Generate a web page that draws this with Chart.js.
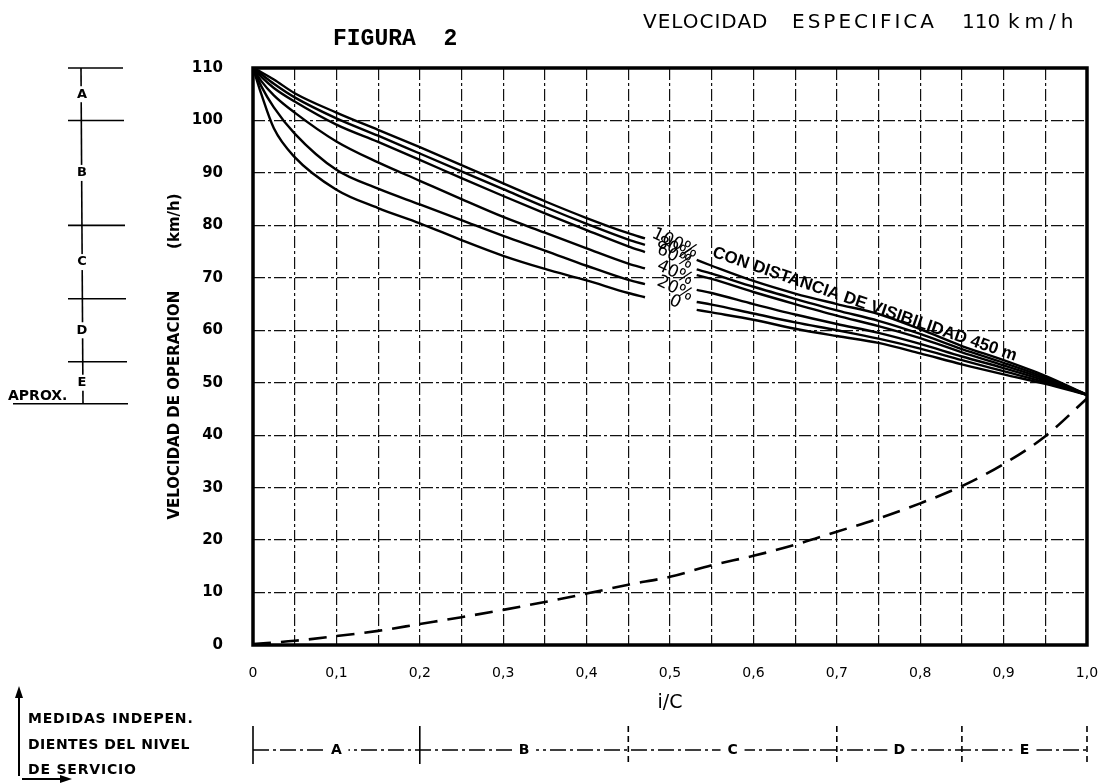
<!DOCTYPE html>
<html>
<head>
<meta charset="utf-8">
<script src="https://cdn.jsdelivr.net/npm/chart.js@4.4.1/dist/chart.umd.min.js"></script>
<style>
  html, body { margin:0; padding:0; background:#fff; }
  #wrap { width:1101px; height:783px; }
</style>
</head>
<body>
<div id="wrap"><canvas id="chart" width="1101" height="783"></canvas></div>
<script>
// curve values (velocidad de operacion vs i/C)
const xLeft = [0, 0.01, 0.025, 0.05, 0.1, 0.15, 0.2, 0.25, 0.3, 0.35, 0.4, 0.45, 0.47];
const s100Left = [110, 109.2, 107.8, 105.2, 101.5, 98.2, 94.9, 91.5, 88.0, 84.6, 81.4, 78.5, 77.5];
const s80Left  = [110, 108.8, 107.0, 104.4, 100.4, 97.1, 93.7, 90.3, 86.9, 83.5, 80.3, 77.3, 76.3];
const s60Left  = [110, 108.3, 106.2, 103.6, 99.2, 95.9, 92.5, 89.0, 85.6, 82.3, 79.1, 76.0, 74.9];
const s40Left  = [110, 107.5, 104.8, 101.5, 96.0, 92.0, 88.5, 85.0, 81.6, 78.6, 75.6, 72.7, 71.8];
const s20Left  = [110, 106.5, 102.5, 97.5, 90.6, 87.0, 84.0, 81.0, 78.0, 75.2, 72.3, 69.6, 68.8];
const s0Left   = [110, 105.0, 98.5, 93.0, 86.8, 83.3, 80.4, 77.2, 74.2, 71.7, 69.5, 67.1, 66.3];

const xRight = [0.532, 0.55, 0.6, 0.65, 0.7, 0.75, 0.8, 0.85, 0.9, 0.95, 1.0];
const s100Right = [73.4, 72.3, 69.4, 67.0, 65.0, 63.1, 60.2, 57.0, 54.3, 51.3, 47.7];
const s80Right  = [71.6, 70.8, 68.3, 66.0, 63.8, 61.8, 59.3, 56.4, 53.8, 51.0, 47.7];
const s60Right  = [70.5, 69.8, 67.3, 65.0, 62.8, 60.8, 58.5, 55.8, 53.3, 50.7, 47.7];
const s40Right  = [67.7, 67.1, 65.0, 63.0, 61.2, 59.5, 57.4, 55.0, 52.8, 50.4, 47.7];
const s20Right  = [65.4, 64.9, 63.2, 61.5, 60.0, 58.4, 56.5, 54.3, 52.2, 50.1, 47.7];
const s0Right   = [63.9, 63.4, 62.0, 60.3, 58.9, 57.6, 55.6, 53.5, 51.6, 49.8, 47.7];

const curveLabels = ["100%", "80%", "60%", "40%", "20%", "0"];

const xDashed = [0, 0.05, 0.1, 0.15, 0.2, 0.25, 0.3, 0.35, 0.4, 0.45, 0.5, 0.55, 0.6, 0.65, 0.7, 0.75, 0.8, 0.85, 0.9, 0.95, 1.0];
const vDashed = [0.2, 0.8, 1.7, 2.7, 4.0, 5.3, 6.7, 8.2, 9.8, 11.5, 13.0, 15.2, 17.0, 19.1, 21.6, 24.1, 27.0, 30.3, 34.5, 39.8, 47.0];

const xTickLabels = ["0", "0,1", "0,2", "0,3", "0,4", "0,5", "0,6", "0,7", "0,8", "0,9", "1,0"];

// niveles de servicio
const losLetters = ["A", "B", "C", "D", "E"];
const losBoundsIC = [0, 0.2, 0.45, 0.7, 0.85, 1.0];
const losBoundsSpeed = [110, 100, 80, 66, 54, 46];

const leftSets = [s100Left, s80Left, s60Left, s40Left, s20Left, s0Left];
const rightSets = [s100Right, s80Right, s60Right, s40Right, s20Right, s0Right];

function pts(xs, ys){
  return xs.map((x, i) => ({ x, y: ys[i] }));
}

const datasets = [];
curveLabels.forEach((lab, i) => {
  datasets.push({ label: lab, data: pts(xLeft, leftSets[i]) });
  datasets.push({ label: lab + " r", data: pts(xRight, rightSets[i]) });
});
datasets.push({ label: "i/C", data: pts(xDashed, vDashed), borderDash: [18, 10], borderWidth: 2.6 });

const FONT = "DejaVu Sans";

function spaced(ctx, text, x, y, spacing){
  ctx.letterSpacing = spacing + "px";
  ctx.fillText(text, x, y);
  ctx.letterSpacing = "0px";
}

const annotations = {
  id: "annotations",
  afterDraw(chart){
    const ctx = chart.ctx;
    const xs = chart.scales.x, ys = chart.scales.y;
    const ca = chart.chartArea;
    ctx.save();

    // marco
    ctx.strokeStyle = "#000";
    ctx.lineWidth = 3.5;
    ctx.strokeRect(ca.left, ca.top, ca.right - ca.left, ca.bottom - ca.top);

    ctx.fillStyle = "#000";
    // titulos
    ctx.textBaseline = "alphabetic";
    ctx.textAlign = "left";
    ctx.font = "bold 23px 'Liberation Mono'";
    ctx.fillText("FIGURA  2", 333, 45);
    ctx.font = "20px " + FONT;
    spaced(ctx, "VELOCIDAD", 643, 28, 1);
    spaced(ctx, "ESPECIFICA", 792, 28, 3);
    spaced(ctx, "110", 962, 28, 0);
    spaced(ctx, "km/h", 1008, 28, 5);

    // etiquetas de porcentaje al final de las curvas
    ctx.font = "17px " + FONT;
    ctx.textAlign = "center";
    ctx.textBaseline = "middle";
    curveLabels.forEach((lab, i) => {
      const arr = leftSets[i];
      const px = xs.getPixelForValue(xLeft[xLeft.length - 1] + 0.036);
      const py = ys.getPixelForValue(arr[arr.length - 1] - 0.9);
      ctx.save();
      ctx.translate(px, py);
      ctx.rotate(25 * Math.PI / 180);
      ctx.fillText(lab, 0, 0);
      ctx.restore();
    });

    // texto sobre la curva de 100%
    ctx.save();
    ctx.translate(713, 252);
    ctx.rotate(19 * Math.PI / 180);
    ctx.font = "bold 17px 'Liberation Sans'";
    ctx.textAlign = "left";
    ctx.textBaseline = "middle";
    ctx.fillText("CON DISTANCIA DE VISIBILIDAD 450 m", 0, 0);
    ctx.restore();

    // escala izquierda A..E
    ctx.lineWidth = 1.6;
    const lx = 81;
    ctx.beginPath();
    ctx.moveTo(lx, ys.getPixelForValue(losBoundsSpeed[0]));
    ctx.lineTo(lx + 2, ys.getPixelForValue(losBoundsSpeed[losBoundsSpeed.length - 1]));
    ctx.stroke();
    losBoundsSpeed.forEach((s, i) => {
      const py = ys.getPixelForValue(s);
      const last = i === losBoundsSpeed.length - 1;
      ctx.beginPath();
      ctx.moveTo(last ? 13 : 68, py);
      ctx.lineTo(last ? 128 : 123 + i, py);
      ctx.stroke();
    });
    ctx.font = "bold 13px " + FONT;
    ctx.textAlign = "center";
    ctx.textBaseline = "middle";
    losLetters.forEach((l, i) => {
      const py = ys.getPixelForValue((losBoundsSpeed[i] + losBoundsSpeed[i + 1]) / 2);
      ctx.fillStyle = "#fff";
      ctx.fillRect(lx - 6, py - 8, 13, 16);
      ctx.fillStyle = "#000";
      ctx.fillText(l, lx + 1, py);
    });
    ctx.font = "bold 14px " + FONT;
    ctx.textAlign = "left";
    ctx.textBaseline = "alphabetic";
    ctx.fillText("APROX.", 8, ys.getPixelForValue(losBoundsSpeed[losBoundsSpeed.length - 1]) - 4);

    // barra inferior de niveles de servicio
    const by = 750;
    ctx.lineWidth = 1.6;
    ctx.setLineDash([16, 4, 3, 4]);
    ctx.beginPath();
    ctx.moveTo(xs.getPixelForValue(0), by);
    ctx.lineTo(xs.getPixelForValue(1), by);
    ctx.stroke();
    losBoundsIC.forEach((v, i) => {
      const px = xs.getPixelForValue(v);
      ctx.setLineDash(i < 2 ? [] : [6, 4]);
      ctx.beginPath();
      ctx.moveTo(px, 726);
      ctx.lineTo(px, 764);
      ctx.stroke();
    });
    ctx.setLineDash([]);
    ctx.font = "bold 14px " + FONT;
    ctx.textAlign = "center";
    ctx.textBaseline = "middle";
    losLetters.forEach((l, i) => {
      const px = xs.getPixelForValue((losBoundsIC[i] + losBoundsIC[i + 1]) / 2);
      ctx.fillStyle = "#fff";
      ctx.fillRect(px - 12, by - 8, 24, 16);
      ctx.fillStyle = "#000";
      ctx.fillText(l, px, by);
    });

    // nota inferior izquierda
    ctx.font = "bold 14px " + FONT;
    ctx.textAlign = "left";
    ctx.textBaseline = "alphabetic";
    spaced(ctx, "MEDIDAS INDEPEN.", 28, 723, 0.8);
    spaced(ctx, "DIENTES DEL NIVEL", 28, 749, 0.5);
    spaced(ctx, "DE SERVICIO", 28, 774, 0.8);
    ctx.lineWidth = 2;
    ctx.beginPath();
    ctx.moveTo(19, 776);
    ctx.lineTo(19, 692);
    ctx.stroke();
    ctx.beginPath();
    ctx.moveTo(15, 698); ctx.lineTo(19, 686); ctx.lineTo(23, 698);
    ctx.fill();
    ctx.beginPath();
    ctx.moveTo(22, 779);
    ctx.lineTo(64, 779);
    ctx.stroke();
    ctx.beginPath();
    ctx.moveTo(60, 775); ctx.lineTo(72, 779); ctx.lineTo(60, 783);
    ctx.fill();

    ctx.restore();
  }
};

new Chart(document.getElementById("chart").getContext("2d"), {
  type: "line",
  data: { datasets },
  options: {
    responsive: false,
    animation: false,
    layout: { padding: { left: 160, right: 14, top: 68, bottom: 0 } },
    plugins: { legend: { display: false }, tooltip: { enabled: false } },
    elements: {
      point: { radius: 0 },
      line: { borderColor: "#000", borderWidth: 2.4, cubicInterpolationMode: "monotone", fill: false }
    },
    scales: {
      x: {
        type: "linear", min: 0, max: 1,
        ticks: {
          stepSize: 0.05, autoSkip: false, maxRotation: 0, padding: 20, color: "#000",
          font: { family: FONT, size: 14 },
          callback: (v) => (Math.round(v * 100) % 10 === 0 ? xTickLabels[Math.round(v * 10)] : "")
        },
        grid: { color: "#111", lineWidth: 1.2, drawTicks: false },
        border: { display: false, dash: [12, 3, 3, 3] },
        title: { display: true, text: "i/C", color: "#000", font: { family: FONT, size: 19 }, padding: { top: 0, bottom: 69 } },
        afterFit: (s) => { s.height = 138; s.paddingLeft = 0; s.paddingRight = 0; }
      },
      y: {
        min: 0, max: 110,
        ticks: { stepSize: 10, padding: 30, color: "#000", font: { family: FONT, size: 15, weight: "bold" } },
        grid: { color: "#111", lineWidth: 1.2, drawTicks: false },
        border: { display: false, dash: [12, 3, 3, 3] },
        title: {
          display: true, text: "VELOCIDAD DE OPERACION        (km/h)", color: "#000",
          font: { family: FONT, size: 15, weight: "bold" }, padding: { top: 6, bottom: 0 }
        },
        afterFit: (s) => { s.width = 93; }
      }
    }
  },
  plugins: [annotations]
});
</script>
</body>
</html>
